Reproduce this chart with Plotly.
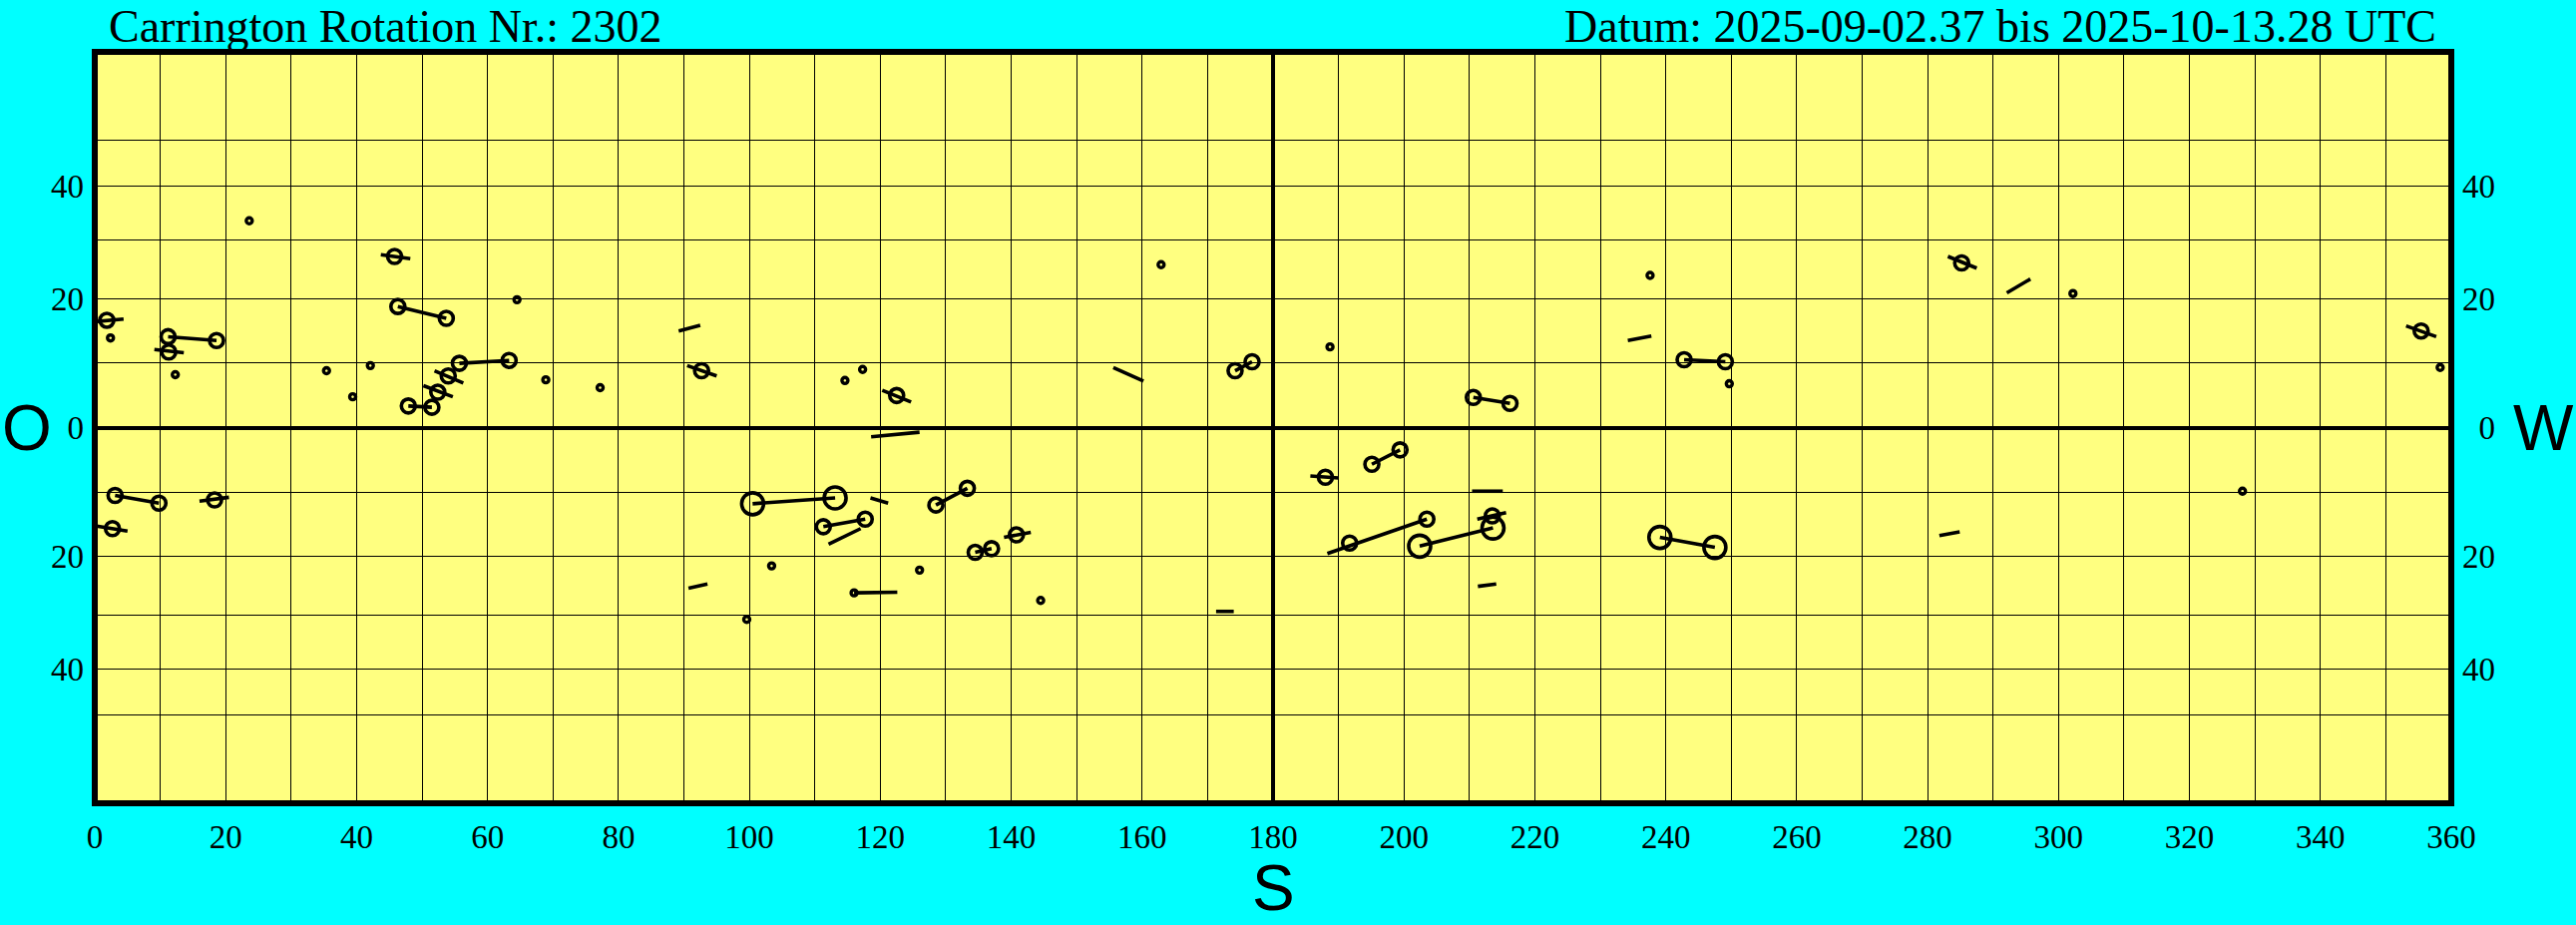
import numpy as np
import plotly.graph_objects as go

# ---- data (Carrington longitude in deg, heliographic latitude in deg) ----
dot_lon = [23.6, 2.4, 12.3, 35.4, 42.1, 39.4, 64.5, 68.9, 77.2, 114.6, 117.3, 103.4, 99.6,
           116.0, 162.9, 126.0, 144.5, 188.7, 237.6, 249.7, 302.2, 358.3, 328.1]
dot_lat = [33.4, 13.8, 8.1, 8.7, 9.5, 4.7, 19.9, 7.3, 6.1, 7.2, 8.9, -21.6, -30.7,
           -26.1, 25.7, -22.3, -27.4, 12.4, 23.9, 6.7, 20.9, 9.2, -9.75]

spot_lon = [1.84, 45.8, 46.3, 53.7, 11.2, 18.6, 11.3, 47.9, 51.5, 52.4, 54.0, 55.7, 63.3,
            3.1, 9.8, 18.3, 2.7, 92.7, 111.3, 117.7, 122.5, 174.2, 176.8, 128.5, 133.3,
            134.5, 137.0, 140.8, 210.6, 216.2, 188.0, 195.1, 199.4, 191.7, 203.5, 213.5,
            242.8, 249.1, 285.2, 355.4]
spot_lat = [16.6, 27.1, 18.8, 16.9, 14.0, 13.4, 11.6, 3.3, 3.1, 5.4, 7.9, 9.85, 10.3,
            -10.4, -11.6, -11.1, -15.6, 8.7, -15.3, -14.1, 4.9, 8.7, 10.1, -11.9, -9.3,
            -19.4, -18.8, -16.6, 4.6, 3.7, -7.6, -5.6, -3.4, -17.9, -14.1, -13.6,
            10.4, 10.1, 26.0, 14.9]

big_lon = [100.5, 113.1, 202.4, 213.6, 239.1, 247.5]
big_lat = [-11.7, -10.8, -18.4, -15.5, -17.0, -18.6]

seg_lon_a = [46.3, 11.2, 47.9, 55.7, 3.1, 100.5, 111.3, 116.0, 174.2, 128.5, 134.5, 210.6,
             195.1, 188.3, 202.4, 239.1, 242.8,
             -0.7, 43.7, 9.1, 50.2, 51.9, 16.0, 0.3, 89.2, 90.5, 112.1, 90.7, 120.3, 118.6,
             155.6, 118.5, 138.9, 171.3, 234.2, 185.7, 210.4, 211.2, 211.3, 283.1, 292.1,
             281.8, 353.1]
seg_lat_a = [18.8, 14.0, 3.3, 9.85, -10.4, -11.7, -15.3, -26.1, 8.7, -11.9, -19.4, 4.6,
             -5.6, -19.6, -18.4, -17.0, 10.4,
             16.3, 27.4, 12.0, 6.4, 8.7, -11.3, -15.2, 14.9, 9.5, -18.1, -25.3, 5.7, -1.4,
             9.2, -10.8, -17.0, -29.3, 13.4, -7.4, -9.75, -14.1, -25.0, 27.1, 21.0,
             -16.7, 15.7]
seg_lon_b = [53.7, 18.6, 51.5, 63.3, 9.8, 113.1, 117.7, 122.6, 176.8, 133.3, 137.0, 216.2,
             199.4, 203.5, 213.6, 247.5, 249.1,
             4.4, 48.2, 13.6, 54.7, 56.3, 20.5, 5.0, 92.5, 95.0, 117.0, 93.6, 124.7, 126.0,
             160.2, 121.2, 143.0, 174.0, 237.8, 190.0, 215.1, 215.6, 214.1, 287.5, 295.7,
             284.9, 357.7]
seg_lat_b = [16.9, 13.4, 3.1, 10.3, -11.6, -10.8, -14.1, -26.0, 10.1, -9.3, -18.8, 3.7,
             -3.4, -14.1, -15.5, -18.6, 10.1,
             16.8, 26.7, 11.5, 4.7, 6.8, -10.7, -16.0, 15.8, 7.9, -15.6, -24.6, 3.9, -0.7,
             7.1, -11.6, -16.2, -29.3, 14.1, -7.7, -9.75, -13.1, -24.6, 25.1, 23.3,
             -16.1, 14.0]

lon_ticks = list(range(0, 361, 10))
lat_grid = [-50, -40, -30, -20, -10, 0, 10, 20, 30, 40, 50]
lat_labels = {-40: "40", -20: "20", 0: "0", 20: "20", 40: "40"}

title_left = "Carrington Rotation Nr.: 2302"
title_right = "Datum: 2025-09-02.37 bis 2025-10-13.28 UTC"

W, H = 2582, 927
ML, MR, MT, MB = 94.5, 124.5, 52, 122
PW, PH = W - ML - MR, H - MT - MB
BG = "#00FFFF"


def sy(lat):
    return np.sin(np.radians(np.asarray(lat, dtype=float)))


# build line segments with None separators
lx, ly = [], []
for a, b, c, d in zip(seg_lon_a, seg_lat_a, seg_lon_b, seg_lat_b):
    lx += [a, c, None]
    ly += [float(sy(b)), float(sy(d)), None]

LW = 3.6
fig = go.Figure()
fig.add_trace(go.Scatter(x=lx, y=ly, mode="lines",
                         line=dict(color="black", width=LW), hoverinfo="skip",
                         showlegend=False))
fig.add_trace(go.Scatter(x=dot_lon, y=sy(dot_lat), mode="markers", showlegend=False,
                         marker=dict(symbol="circle-open", size=6, color="black",
                                     line=dict(width=3.4))))
fig.add_trace(go.Scatter(x=spot_lon, y=sy(spot_lat), mode="markers", showlegend=False,
                         marker=dict(symbol="circle-open", size=14, color="black",
                                     line=dict(width=LW))))
fig.add_trace(go.Scatter(x=big_lon, y=sy(big_lat), mode="markers", showlegend=False,
                         marker=dict(symbol="circle-open", size=22, color="black",
                                     line=dict(width=LW))))
# dummy trace for the right-hand axis
fig.add_trace(go.Scatter(x=[None], y=[None], yaxis="y2", showlegend=False,
                         hoverinfo="skip"))

tickfont = dict(family="Liberation Serif", size=33, color="black")
ytv = [float(v) for v in sy(lat_grid)]
ytt = [lat_labels.get(v, "") for v in lat_grid]
# right-hand labels are right-aligned in the reference: pad one-digit label
ytt_right = [(f"<span style='color:{BG}'>0</span>{t}" if len(t) == 1 else t) for t in ytt]


def px_x(p):  # pixel -> paper x
    return (p - ML) / PW


def px_y(p):  # pixel (from top) -> paper y
    return (H - MB - p) / PH


fig.update_layout(
    width=W, height=H,
    margin=dict(l=ML, r=MR, t=MT, b=MB),
    paper_bgcolor=BG, plot_bgcolor="#FFFF80",
    xaxis=dict(range=[0, 360], tickvals=lon_ticks,
               ticktext=[str(v) if v % 20 == 0 else "" for v in lon_ticks],
               showgrid=True, gridcolor="black", gridwidth=1, zeroline=False,
               ticks="", ticklabelstandoff=11, tickfont=tickfont, showline=False),
    yaxis=dict(range=[-1, 1], tickvals=ytv, ticktext=ytt,
               showgrid=True, gridcolor="black", gridwidth=1,
               zeroline=True, zerolinecolor="black", zerolinewidth=4,
               ticks="", ticklabelstandoff=10, tickfont=tickfont, showline=False),
    yaxis2=dict(range=[-1, 1], tickvals=ytv, ticktext=ytt_right, overlaying="y",
                side="right", showgrid=False, zeroline=False, ticks="",
                ticklabelstandoff=10, tickfont=tickfont, showline=False),
    shapes=[
        dict(type="line", xref="x", yref="paper", x0=180, x1=180, y0=0, y1=1,
             line=dict(color="black", width=4), layer="above"),
        dict(type="rect", xref="paper", yref="paper", x0=0, x1=1, y0=0, y1=1,
             line=dict(color="black", width=6), layer="above"),
    ],
    annotations=[
        dict(text=title_left, xref="paper", yref="paper", x=px_x(108), y=px_y(0),
             xanchor="left", yanchor="top", showarrow=False, borderpad=0,
             font=dict(family="Liberation Serif", size=46, color="black")),
        dict(text=title_right, xref="paper", yref="paper", x=px_x(2443), y=px_y(0),
             xanchor="right", yanchor="top", showarrow=False, borderpad=0,
             font=dict(family="Liberation Serif", size=46, color="black")),
        dict(text="O", xref="paper", yref="paper", x=px_x(0), y=px_y(428.5),
             xanchor="left", yanchor="middle", showarrow=False, borderpad=0,
             font=dict(family="Liberation Sans", size=64, color="black")),
        dict(text="W", xref="paper", yref="paper", x=px_x(2582), y=px_y(428.5),
             xanchor="right", yanchor="middle", showarrow=False, borderpad=0,
             font=dict(family="Liberation Sans", size=64, color="black")),
        dict(text="S", xref="paper", yref="paper", x=px_x(1276), y=px_y(927),
             xanchor="center", yanchor="bottom", showarrow=False, borderpad=0,
             font=dict(family="Liberation Sans", size=64, color="black")),
    ],
)

fig.write_html(
    "out.html",
    config={"displayModeBar": False},
    post_script="document.body.style.margin='0';"
                "document.body.style.padding='0';"
                "document.body.style.background='" + BG + "';"
                "document.body.style.overflow='hidden';",
)
